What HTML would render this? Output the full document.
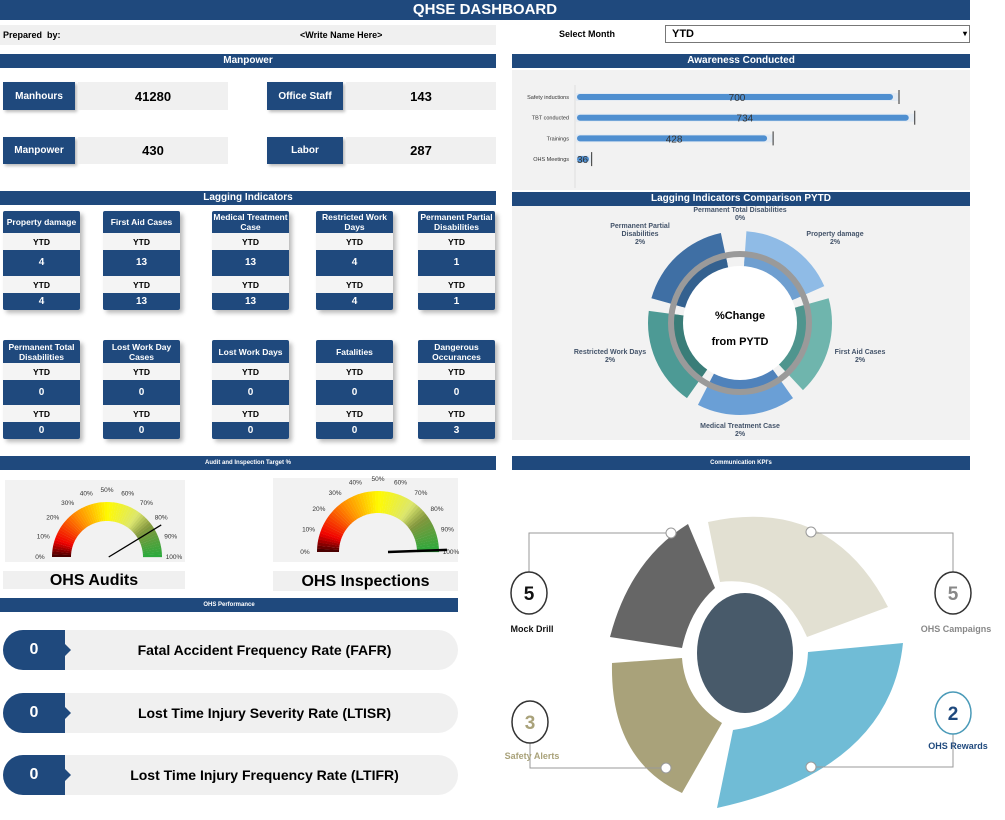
<!DOCTYPE html>
<html><head><meta charset="utf-8">
<style>
*{box-sizing:border-box;margin:0;padding:0}
body{width:1005px;height:820px;background:#fff;font-family:"Liberation Sans",sans-serif;position:relative;overflow:hidden}
.a{position:absolute}
.hdr{position:absolute;background:#1f497d;color:#fff;font-weight:bold;text-align:center;font-size:10px;line-height:14px}
.lbl{position:absolute;background:#1f497d;color:#fff;font-weight:bold;font-size:10px;display:flex;align-items:center;justify-content:center;box-shadow:2px 2px 3px #bbb}
.val{position:absolute;background:#f0f0f0;font-weight:bold;font-size:13px;display:flex;align-items:center;justify-content:center}
.card{position:absolute;width:77px;box-shadow:3px 3px 4px #bbb;border-radius:2px;overflow:hidden}
.card div{display:flex;align-items:center;justify-content:center;text-align:center;font-weight:bold;font-size:8.5px;line-height:10px}
.ch{background:#1f497d;color:#fff}
.cy{background:#f4f4f4;color:#000;height:17px}
.cv{background:#1f497d;color:#fff;font-size:10px!important}
</style></head><body>
<div class="hdr" style="left:0;top:0;width:970px;height:20px;font-size:15px;line-height:20px">QHSE DASHBOARD</div>
<div class="a" style="left:0;top:25px;width:496px;height:20px;background:#f0f0f0;font-size:9px;font-weight:bold;line-height:20px"><span style="margin-left:3px">Prepared &nbsp;by:</span><span style="position:absolute;left:300px">&lt;Write Name Here&gt;</span></div>
<div class="a" style="left:559px;top:29px;font-size:9px;font-weight:bold">Select Month</div>
<div class="a" style="left:665px;top:25px;width:305px;height:18px;border:1px solid #777;font-size:11px;font-weight:bold;line-height:16px;padding-left:6px">YTD<span style="position:absolute;right:2px;top:0;font-size:8px">&#9662;</span></div>

<div class="hdr" style="left:0;top:54px;width:496px">Manpower</div>
<div class="lbl" style="left:3px;top:82px;width:72px;height:28px">Manhours</div>
<div class="val" style="left:78px;top:82px;width:150px;height:28px">41280</div>
<div class="lbl" style="left:267px;top:82px;width:76px;height:28px">Office Staff</div>
<div class="val" style="left:346px;top:82px;width:150px;height:28px">143</div>
<div class="lbl" style="left:3px;top:137px;width:72px;height:27px">Manpower</div>
<div class="val" style="left:78px;top:137px;width:150px;height:27px">430</div>
<div class="lbl" style="left:267px;top:137px;width:76px;height:27px">Labor</div>
<div class="val" style="left:346px;top:137px;width:150px;height:27px">287</div>

<div class="hdr" style="left:512px;top:54px;width:458px">Awareness Conducted</div>
<div class="a" style="left:512px;top:70px;width:458px;height:120px;background:#f2f2f2"></div>
<svg class="a" id="bars" style="left:0;top:0" width="1005" height="200"></svg>

<div class="hdr" style="left:0;top:191px;width:496px">Lagging Indicators</div>
<div id="cards"></div>

<div class="a" style="left:512px;top:192px;width:458px;height:248px;background:#f2f2f2"></div>
<div class="hdr" style="left:512px;top:192px;width:458px">Lagging Indicators Comparison PYTD</div>
<svg class="a" id="donut" style="left:512px;top:206px" width="458" height="234"></svg>

<div class="hdr" style="left:0;top:456px;width:496px;font-size:6px">Audit and Inspection Target %</div>
<div class="hdr" style="left:512px;top:456px;width:458px;font-size:6px">Communication KPI's</div>
<div class="a" style="left:5px;top:480px;width:180px;height:82px;background:#f2f2f2"></div>
<div class="a" style="left:273px;top:478px;width:185px;height:84px;background:#f2f2f2"></div>
<svg class="a" id="gauges" style="left:0;top:470px" width="470" height="100"></svg>
<div class="a" style="left:3px;top:571px;width:182px;height:18px;background:#f0f0f0;font-size:16px;font-weight:bold;text-align:center;line-height:19px">OHS Audits</div>
<div class="a" style="left:273px;top:571px;width:185px;height:20px;background:#f0f0f0;font-size:16px;font-weight:bold;text-align:center;line-height:21px">OHS Inspections</div>

<div class="hdr" style="left:0;top:598px;width:458px;font-size:6px">OHS Performance</div>
<div id="perf"></div>

<svg class="a" style="left:0;top:0" width="1005" height="820">
 <path d="M610,637 Q630,560 688,524 L715,588 Q690,610 682,648 Z" fill="#666"/>
 <path d="M708,522 Q830,495 888,607 L807,637 Q780,575 720,582 Z" fill="#e2e0d2"/>
 <path d="M903,643 Q890,770 717,808 L733,730 Q805,720 808,652 Z" fill="#70bcd6"/>
 <path d="M612,663 Q610,760 682,793 L722,723 Q685,700 682,658 Z" fill="#a9a27a"/>
 <ellipse cx="745" cy="653" rx="48" ry="60" fill="#485a6a"/>
 <g fill="none" stroke="#999" stroke-width="1">
  <polyline points="529,575 529,533 666,533"/><polyline points="953,575 953,533 816,533"/>
  <polyline points="530,740 530,768 661,768"/><polyline points="953,731 953,767 816,767"/>
 </g>
 <g fill="#fff" stroke="#999"><circle cx="671" cy="533" r="5"/><circle cx="811" cy="532" r="5"/><circle cx="666" cy="768" r="5"/><circle cx="811" cy="767" r="5"/></g>
 <g fill="#fff" stroke-width="1.5">
  <ellipse cx="529" cy="593" rx="18" ry="21" stroke="#333"/><ellipse cx="953" cy="593" rx="18" ry="21" stroke="#333"/>
  <ellipse cx="530" cy="722" rx="18" ry="21" stroke="#333"/><ellipse cx="953" cy="713" rx="18" ry="21" stroke="#4a9ab8"/>
 </g>
 <g font-weight="bold" text-anchor="middle" font-family="Liberation Sans,sans-serif">
  <text x="529" y="600" font-size="19" fill="#111">5</text>
  <text x="953" y="600" font-size="19" fill="#888">5</text>
  <text x="530" y="729" font-size="19" fill="#a9a27a">3</text>
  <text x="953" y="720" font-size="19" fill="#1f497d">2</text>
  <text x="532" y="632" font-size="9" fill="#111">Mock Drill</text>
  <text x="956" y="632" font-size="9" fill="#888">OHS Campaigns</text>
  <text x="532" y="759" font-size="9" fill="#a9a27a">Safety Alerts</text>
  <text x="958" y="749" font-size="9" fill="#1f497d">OHS Rewards</text>
 </g>
</svg>

<script>
// Awareness bar chart data
const awCats=["Safety inductions","TBT conducted","Trainings","OHS Meetings"];
const awVals=[700,734,428,36];
// Lagging indicators data
const lagNames=["Property damage","First Aid Cases","Medical Treatment Case","Restricted Work Days","Permanent Partial Disabilities","Permanent Total Disabilities","Lost Work Day Cases","Lost Work Days","Fatalities","Dangerous Occurances"];
const lagYTD=[4,13,13,4,1,0,0,0,0,0];
const lagPYTD=[4,13,13,4,1,0,0,0,0,3];
// Donut data
const dnCats=["Property damage","First Aid Cases","Medical Treatment Case","Restricted Work Days","Permanent Partial Disabilities","Permanent Total Disabilities"];
const dnVals=[2,2,2,2,2,0];
// Gauge data
const gaugeNames=["OHS Audits","OHS Inspections"];
const gaugeVals=[83,99];
const gaugeTicks=["0%","10%","20%","30%","40%","50%","60%","70%","80%","90%","100%"];
// Performance data
const perfNames=["Fatal Accident Frequency Rate (FAFR)","Lost Time Injury Severity Rate (LTISR)","Lost Time Injury Frequency Rate (LTIFR)"];
const perfVals=[0,0,0];

const NS="http://www.w3.org/2000/svg";
function mk(p,tag,at){const e=document.createElementNS(NS,tag);for(const k in at)e.setAttribute(k,at[k]);p.appendChild(e);return e;}

// bars
(function(){
 const s=document.getElementById('bars');
 const x0=575,sc=324/700;const xs=v=>x0+v*sc;
 const ys=i=>97+i*20.7;
 mk(s,'line',{x1:x0,y1:85,x2:x0,y2:188,stroke:'#ddd'});
 awCats.forEach((c,i)=>{
  const y=ys(i);
  const t=mk(s,'text',{x:569,y:y+2,'font-size':5.5,'text-anchor':'end',fill:'#333'});t.textContent=c;
  
  
  const w=Math.max(xs(awVals[i])-x0-8,12);
  mk(s,'rect',{x:x0+1,y:y-4,width:xs(awVals[i])-x0-1,height:8,fill:'#e4ebf3'});
  const r=mk(s,'rect',{x:x0+2,y:y-3,width:w,height:6,rx:3,fill:'#4f8fd0'});
  
  
  mk(s,'line',{x1:xs(awVals[i]),y1:y-7,x2:xs(awVals[i]),y2:y+7,stroke:'#333','stroke-width':1});
  const v=mk(s,'text',{x:awVals[i]<100?x0+2:x0+(xs(awVals[i])-x0)/2,y:y+4,'font-size':10,fill:'#333','text-anchor':awVals[i]<100?'start':'middle'});v.textContent=awVals[i];
  
  
 });
})();

// cards
(function(){
 const c=document.getElementById('cards');
 const xs=[3,103,212,316,418];
 lagNames.forEach((n,i)=>{
  const row=Math.floor(i/5),col=i%5;
  const d=document.createElement('div');d.className='card';
  
  
  d.style.left=xs[col]+'px';d.style.top=(row?340:211)+'px';
  const hh=row?23:22;
  d.innerHTML=`<div class="ch" style="height:${hh}px">${n}</div><div class="cy">YTD</div><div class="cv" style="height:${row?25:26}px">${lagYTD[i]}</div><div class="cy">YTD</div><div class="cv" style="height:${row?17:17}px">${lagPYTD[i]}</div>`;
  c.appendChild(d);
 });
})();

// donut
(function(){
 const s=document.getElementById('donut');
 const cx=228,cy=117;
 const cols=["#8fbbe6","#6fb5ad","#6a9fd6","#4d9a95","#3f6fa4"];
 const inner=["#6f9fd0","#4f958e","#4f82bb","#3a7d78","#34618f"];
 const arc=(r1,r2,a1,a2)=>{const p=(r,a)=>[cx+r*Math.sin(a*Math.PI/180),cy-r*Math.cos(a*Math.PI/180)];
  const [x1,y1]=p(r2,a1),[x2,y2]=p(r2,a2),[x3,y3]=p(r1,a2),[x4,y4]=p(r1,a1);const l=(a2-a1)>180?1:0;
  return `M${x1},${y1}A${r2},${r2} 0 ${l} 1 ${x2},${y2}L${x3},${y3}A${r1},${r1} 0 ${l} 0 ${x4},${y4}Z`;};
 const nz=dnVals.filter(v=>v>0).length;const tot=dnVals.reduce((a,b)=>a+b,0);
 let a=4;const gap=8;const avail=360-gap*(nz+1);
 const lbl=[[95,30,"start"],[120,148,"start"],[0,222,"middle"],[-130,148,"end"],[-100,22,"end"],[0,6,"middle"]];
 dnVals.forEach((v,i)=>{
  if(v>0){const sp=avail*v/tot;
   const p=mk(s,'path',{d:arc(60,92,a,a+sp),fill:cols[i]});
   
   
   mk(s,'path',{d:arc(55,68,a,a+sp),fill:inner[i]});
   a+=sp+gap;}
  const [dx,ly,an]=lbl[i];
  const t=mk(s,'text',{x:cx+dx,y:ly,'font-size':7,'font-weight':'bold',fill:'#44546a','text-anchor':'middle'});
  
  
  const words=dnCats[i]==="Permanent Partial Disabilities"?["Permanent Partial","Disabilities"]:[dnCats[i]];
  words.concat([Math.round(v)+"%"]).forEach((w,k)=>{const ts=mk(t,'tspan',{x:cx+dx,dy:k?8:0});ts.textContent=w;});
 });
 mk(s,'circle',{cx,cy,r:69,fill:'none',stroke:'#9a9a9a','stroke-width':6});
 mk(s,'circle',{cx,cy,r:57,fill:'#fff'});
 const t1=mk(s,'text',{x:cx,y:cy-4,'font-size':11,'font-weight':'bold','text-anchor':'middle'});t1.textContent="%Change";
 const t2=mk(s,'text',{x:cx,y:cy+22,'font-size':11,'font-weight':'bold','text-anchor':'middle'});t2.textContent="from PYTD";
})();

// gauges
(function(){
 const s=document.getElementById('gauges');
 const G=[{cx:107,cy:87,ro:55,ri:36},{cx:378,cy:82,ro:61,ri:39}];
 const stops=[[0,[60,0,0]],[0.1,[240,0,0]],[0.3,[255,140,0]],[0.5,[255,250,0]],[0.7,[220,230,110]],[0.8,[130,150,60]],[1,[40,170,60]]];
 const colAt=f=>{for(let k=1;k<stops.length;k++){if(f<=stops[k][0]){const [f0,c0]=stops[k-1],[f1,c1]=stops[k];const t=(f-f0)/(f1-f0);return `rgb(${c0.map((c,j)=>Math.round(c+(c1[j]-c)*t)).join(',')})`;}}return 'rgb(40,170,60)';};
 G.forEach((g,gi)=>{
  const N=60;
  for(let k=0;k<N;k++){
   const a1=Math.PI*(1-k/N),a2=Math.PI*(1-(k+1.05)/N);
   const p=(r,a)=>`${g.cx+r*Math.cos(a)},${g.cy-r*Math.sin(a)}`;
   mk(s,'path',{d:`M${p(g.ro,a1)}A${g.ro},${g.ro} 0 0 1 ${p(g.ro,a2)}L${p(g.ri,a2)}A${g.ri},${g.ri} 0 0 0 ${p(g.ri,a1)}Z`,fill:colAt((k+0.5)/N)});
  }
  gaugeTicks.forEach((tk,k)=>{const a=Math.PI*(1-k/10);const r=g.ro+12;
   const t=mk(s,'text',{x:g.cx+r*Math.cos(a),y:g.cy-r*Math.sin(a)+2,'font-size':6.5,'text-anchor':'middle',fill:'#333'});t.textContent=tk;});
  const a=Math.PI*(1-gaugeVals[gi]/100);
  const n=mk(s,'line',{x1:g.cx+(gi?-10:-2)*Math.cos(a)*-1,y1:g.cy,x2:g.cx+(g.ro+8)*Math.cos(a),y2:g.cy-(g.ro+8)*Math.sin(a),stroke:'#000','stroke-width':gi?2.5:1.3});
  
  
 });
})();

// performance
(function(){
 const c=document.getElementById('perf');
 const ys=[630,693,755];
 perfNames.forEach((n,i)=>{
  const d=document.createElement('div');d.className='a';
  
  
  d.style.cssText=`left:3px;top:${ys[i]}px;width:455px;height:40px;background:#f0f0f0;border-radius:20px;`;
  d.innerHTML=`<div style="position:absolute;left:0;top:0;width:62px;height:40px;background:#1f497d;border-radius:20px 0 0 20px;color:#fff;font-weight:bold;font-size:16px;line-height:40px;text-align:center">${perfVals[i]}</div><div style="position:absolute;left:62px;top:14px;border-left:6px solid #1f497d;border-top:6px solid transparent;border-bottom:6px solid transparent"></div><div style="position:absolute;left:68px;right:0;top:0;line-height:40px;text-align:center;font-weight:bold;font-size:14px">${n}</div>`;
  c.appendChild(d);
 });
})();
</script>
</body></html>
